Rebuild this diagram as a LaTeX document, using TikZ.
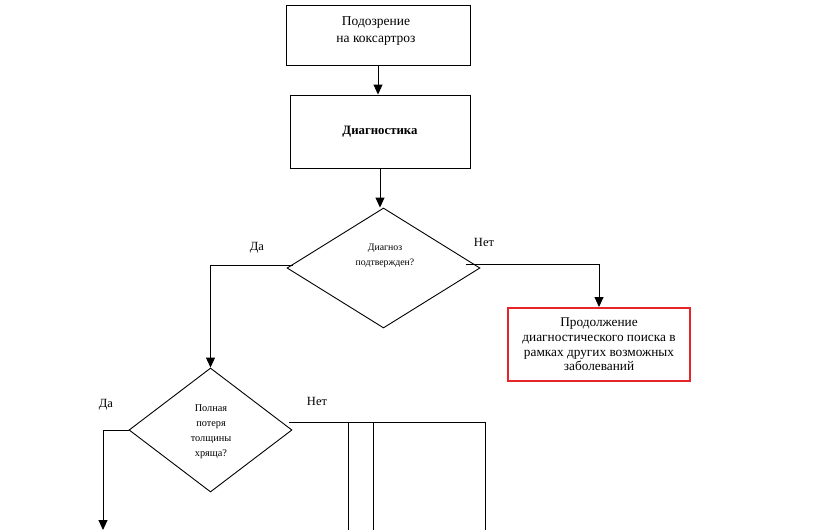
\documentclass[tikz,border=0pt]{standalone}
\usepackage{fontspec}
\setmainfont{Liberation Serif}
\usetikzlibrary{shapes.geometric,arrows.meta,calc}
\definecolor{redframe}{RGB}{228,38,42}
\tikzset{
  box/.style={draw=black, line width=0.9pt, rectangle, inner sep=0pt, align=center},
  boxtext/.style={align=center, inner sep=0pt, font=\fontsize{13.5}{17}\selectfont},
  redbox/.style={draw=redframe, line width=2pt, rectangle, inner sep=0pt, align=center, font=\fontsize{13.3}{14.7}\selectfont},
  decision/.style={draw=black, line width=0.9pt, diamond, inner sep=0pt},
  dtext/.style={align=center, inner sep=0pt},
  conn/.style={draw=black, line width=0.9pt},
  arr/.style={conn, -{Triangle[length=10pt,width=9pt]}},
  lbl/.style={font=\fontsize{12.5}{14}\selectfont, inner sep=0pt}
}
\begin{document}
\begin{tikzpicture}[x=1pt,y=-1pt]
\clip (0,0) rectangle (830,530);
\fill[white] (0,0) rectangle (830,530);

\node[box, minimum width=184pt, minimum height=60pt] (b1) at (378,35) {};
\node[boxtext] (t0) at (376,31) {Подозрение\\на коксартроз};
\node[box, minimum width=180pt, minimum height=73pt, font=\bfseries\fontsize{12.8}{15}\selectfont] (b2) at (380,131.5) {Диагностика};
\node[decision, minimum width=193pt, minimum height=120pt] (d1) at (383.5,268) {};
\node[dtext, font=\fontsize{9.8}{14.5}\selectfont] (t1) at (385,256) {Диагноз\\подтвержден?};
\node[redbox, minimum width=182pt, minimum height=73pt] (r) at (599,344.5) {Продолжение\\диагностического поиска в\\рамках других возможных\\заболеваний};
\node[decision, minimum width=163pt, minimum height=124pt] (d2) at (210.5,430) {};
\node[dtext, font=\fontsize{10.3}{15}\selectfont] (t2) at (211,432) {Полная\\потеря\\толщины\\хряща?};
\node[draw=black, line width=0.9pt, rectangle, minimum width=137pt, minimum height=200pt, anchor=north west, inner sep=0pt] (c) at (348,422) {};
\coordinate (cin) at (373,422);
\coordinate (cinb) at (373,622);
\coordinate (yes2) at (103,530);
\coordinate (d1l) at (293,265);
\coordinate (d1r) at (466,264);
\coordinate (d2r) at (289,422);

\draw[arr] (b1.south) -- (b1.south |- b2.north);
\draw[arr] (b2.south) -- (b2.south |- d1.north);
\draw[arr] (d1l) -| (d2.north);
\draw[arr] (d1r) -| (r.north);
\draw[arr] (d2.west) -| (yes2);
\draw[conn] (d2r) -- (c.north west);
\draw[conn] (cin) -- (cinb);

\node[lbl] (l1) at (257,248) {Да};
\node[lbl] (l2) at (484,242) {Нет};
\node[lbl] (l3) at (106,405) {Да};
\node[lbl] (l4) at (317,401) {Нет};
\end{tikzpicture}
\end{document}
